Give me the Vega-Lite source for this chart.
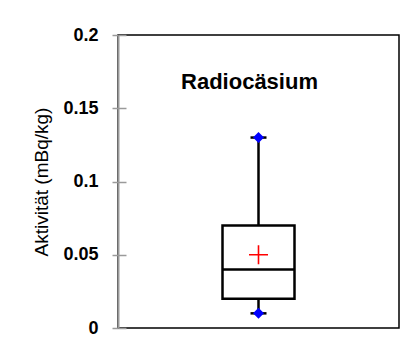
{
  "$schema": "https://vega.github.io/schema/vega-lite/v6.json",
  "width": 281,
  "height": 293,
  "autosize": {"type": "none"},
  "padding": {"left": 118, "top": 35, "right": 15, "bottom": 15},
  "background": "white",
  "config": {
    "view": {"stroke": "black", "strokeWidth": 1.5},
    "font": "Liberation Sans"
  },
  "data": {
    "values": [
      {"group": "Radiocäsium", "min": 0.01, "q1": 0.02, "median": 0.04, "mean": 0.05, "q3": 0.07, "max": 0.13}
    ]
  },
  "encoding": {
    "x": {"field": "group", "type": "nominal", "axis": null}
  },
  "layer": [
    {
      "mark": {"type": "rule", "stroke": "black", "strokeWidth": 2.5},
      "encoding": {
        "y": {
          "field": "min", "type": "quantitative",
          "scale": {"domain": [0, 0.2], "nice": false, "zero": true},
          "axis": {
            "orient": "left",
            "values": [0, 0.05, 0.1, 0.15, 0.2],
            "format": "~g",
            "grid": true,
            "gridColor": "#9a9a9a",
            "gridWidth": 1.5,
            "gridDash": [8, 400],
            "gridOpacity": 1,
            "title": "Aktivität (mBq/kg)",
            "titleFont": "Liberation Sans",
            "titleFontSize": 19,
            "titleFontWeight": "normal",
            "titleColor": "black",
            "titlePadding": 11,
            "labelFont": "Liberation Sans",
            "labelFontSize": 18,
            "labelFontWeight": "bold",
            "labelColor": "black",
            "labelPadding": 14,
            "domainColor": "#9a9a9a",
            "domainWidth": 2,
            "tickColor": "#9a9a9a",
            "tickWidth": 1.5,
            "tickSize": 6,
            "zindex": 1
          }
        },
        "y2": {"field": "max"}
      }
    },
    {
      "mark": {"type": "bar", "size": 72, "fill": "white", "stroke": "black", "strokeWidth": 2.5, "opacity": 1},
      "encoding": {
        "y": {"field": "q1", "type": "quantitative"},
        "y2": {"field": "q3"}
      }
    },
    {
      "mark": {"type": "tick", "size": 72, "thickness": 2.5, "color": "black", "opacity": 1},
      "encoding": {"y": {"field": "median", "type": "quantitative"}}
    },
    {
      "mark": {"type": "tick", "size": 16, "thickness": 2.5, "color": "black", "opacity": 1},
      "encoding": {"y": {"field": "min", "type": "quantitative"}}
    },
    {
      "mark": {"type": "tick", "size": 16, "thickness": 2.5, "color": "black", "opacity": 1},
      "encoding": {"y": {"field": "max", "type": "quantitative"}}
    },
    {
      "mark": {"type": "point", "shape": "diamond", "filled": true, "color": "#0000ff", "size": 121, "opacity": 1},
      "encoding": {"y": {"field": "min", "type": "quantitative"}}
    },
    {
      "mark": {"type": "point", "shape": "diamond", "filled": true, "color": "#0000ff", "size": 121, "opacity": 1},
      "encoding": {"y": {"field": "max", "type": "quantitative"}}
    },
    {
      "mark": {"type": "point", "shape": "M-1,0L1,0M0,-1L0,1", "filled": false, "stroke": "#ff0000", "strokeWidth": 1.6, "size": 361, "opacity": 1},
      "encoding": {"y": {"field": "mean", "type": "quantitative"}}
    },
    {
      "mark": {"type": "text", "font": "Liberation Sans", "fontSize": 22, "fontWeight": "bold", "color": "black", "dx": -9, "baseline": "middle", "align": "center"},
      "encoding": {
        "y": {"datum": 0.168, "type": "quantitative"},
        "text": {"value": "Radiocäsium"}
      }
    }
  ]
}
